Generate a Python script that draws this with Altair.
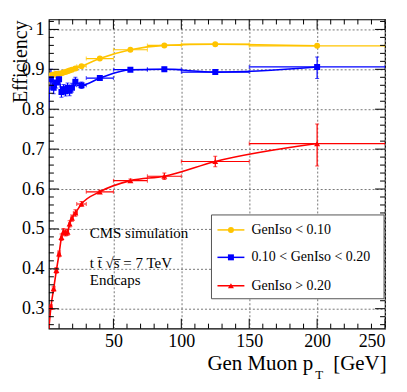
import altair as alt
import pandas as pd

# ---- data ----
pt = [2, 4, 6, 8, 10, 11.75, 13.25, 14.75, 16.25, 17.75, 19.5, 22, 26.5, 40, 62.5, 87.5, 125, 200]
pt_err = [1, 1, 1, 1, 1, 0.75, 0.75, 0.75, 0.75, 0.75, 1, 1.5, 3.5, 10, 12.5, 12.5, 25, 50]

eff_low = [0.845, 0.885, 0.887, 0.889, 0.889, 0.890, 0.892, 0.893, 0.895, 0.897, 0.899, 0.902, 0.908,
           0.927, 0.949, 0.960, 0.963, 0.959]
err_low_up = [0.01, 0.004, 0.004, 0.004, 0.004, 0.004, 0.003, 0.003, 0.003, 0.003, 0.003, 0.003, 0.003,
              0.002, 0.002, 0.002, 0.002, 0.003]
err_low_dn = err_low_up

eff_mid = [0.795, 0.875, 0.854, 0.867, 0.875, 0.843, 0.850, 0.845, 0.854, 0.846, 0.854, 0.869, 0.860,
           0.878, 0.899, 0.900, 0.893, 0.906]
err_mid_up = [0.02, 0.025, 0.015, 0.014, 0.013, 0.013, 0.012, 0.012, 0.012, 0.012, 0.011, 0.011, 0.008,
              0.005, 0.004, 0.005, 0.006, 0.025]
err_mid_dn = [0.02, 0.025, 0.015, 0.014, 0.013, 0.013, 0.012, 0.012, 0.012, 0.012, 0.011, 0.011, 0.008,
              0.005, 0.004, 0.005, 0.006, 0.029]

eff_high = [0.232, 0.304, 0.350, 0.396, 0.4375, 0.479, 0.493, 0.490, 0.492, 0.5125, 0.527, 0.540, 0.5625,
            0.593, 0.621, 0.632, 0.669, 0.714]
err_high_up = [0.01, 0.006, 0.006, 0.007, 0.007, 0.008, 0.008, 0.008, 0.008, 0.008, 0.008, 0.008, 0.006,
               0.004, 0.004, 0.008, 0.013, 0.049]
err_high_dn = [0.01, 0.006, 0.006, 0.007, 0.007, 0.008, 0.008, 0.008, 0.008, 0.008, 0.008, 0.008, 0.006,
               0.004, 0.004, 0.008, 0.013, 0.056]

series_names = ["GenIso < 0.10", "0.10 < GenIso < 0.20", "GenIso > 0.20"]
series_colors = ["#FFC400", "#0000FF", "#FF0000"]
series_shapes = ["circle", "square", "triangle-up"]

x_major = [50, 100, 150, 200, 250]
x_minor = [10, 20, 30, 40, 60, 70, 80, 90, 110, 120, 130, 140, 160, 170, 180, 190, 210, 220, 230, 240]
y_major = [0.3, 0.4, 0.5, 0.6, 0.7, 0.8, 0.9, 1.0]
y_minor = [0.26, 0.28, 0.32, 0.34, 0.36, 0.38, 0.42, 0.44, 0.46, 0.48, 0.52, 0.54, 0.56, 0.58,
           0.62, 0.64, 0.66, 0.68, 0.72, 0.74, 0.76, 0.78, 0.82, 0.84, 0.86, 0.88, 0.92, 0.94,
           0.96, 0.98, 1.02]

X_DOM = [2.5, 250]
Y_DOM = [0.25, 1.025]
W, H = 337, 310
FONT = "Liberation Serif"

rows = []
for name, eff, up, dn in [(series_names[0], eff_low, err_low_up, err_low_dn),
                          (series_names[1], eff_mid, err_mid_up, err_mid_dn),
                          (series_names[2], eff_high, err_high_up, err_high_dn)]:
    for x, ex, y, u, d in zip(pt, pt_err, eff, up, dn):
        rows.append(dict(series=name, pt=x, xlo=x - ex, xhi=x + ex, eff=y, ylo=y - d, yhi=y + u))
df = pd.DataFrame(rows)

xs = alt.Scale(domain=X_DOM, nice=False, zero=False)
ys = alt.Scale(domain=Y_DOM, nice=False, zero=False)
col = alt.Color("series:N", scale=alt.Scale(domain=series_names, range=series_colors), legend=None)
shp = alt.Shape("series:N", scale=alt.Scale(domain=series_names, range=series_shapes), legend=None)

X = alt.X("pt:Q", scale=xs,
          axis=alt.Axis(values=x_major, grid=True, ticks=False, domain=False, title=None,
                        labelFont=FONT, labelFontSize=18, labelColor="black", labelPadding=4,
                        gridColor="#777", gridDash=[2, 2], gridWidth=1))
Y = alt.Y("eff:Q", scale=ys,
          axis=alt.Axis(values=y_major, grid=True, ticks=False, domain=False, title=None,
                        labelFont=FONT, labelFontSize=18, labelColor="black", labelPadding=5,
                        labelExpr="datum.value == 1 ? '1' : format(datum.value, '.1f')",
                        gridColor="#777", gridDash=[2, 2], gridWidth=1))

base = alt.Chart(df)
shown = alt.Chart(df).transform_filter("datum.pt > 2.5")

lines = base.mark_line(interpolate="monotone", strokeWidth=1.6, clip=True).encode(
    x=X, y=Y, color=col, detail="series:N")
xerr = shown.mark_rule(strokeWidth=1.2, clip=True).encode(
    x=alt.X("xlo:Q", scale=xs), x2="xhi:Q", y=alt.Y("eff:Q", scale=ys), color=col)
yerr = shown.mark_rule(strokeWidth=1.2, clip=True).encode(
    x=alt.X("pt:Q", scale=xs), y=alt.Y("ylo:Q", scale=ys), y2="yhi:Q", color=col)
cap_xlo = shown.mark_tick(orient="vertical", size=4, thickness=1, clip=True).encode(
    x=alt.X("xlo:Q", scale=xs), y=alt.Y("eff:Q", scale=ys), color=col)
cap_xhi = shown.mark_tick(orient="vertical", size=4, thickness=1, clip=True).encode(
    x=alt.X("xhi:Q", scale=xs), y=alt.Y("eff:Q", scale=ys), color=col)
cap_ylo = shown.mark_tick(orient="horizontal", size=4, thickness=1, clip=True).encode(
    x=alt.X("pt:Q", scale=xs), y=alt.Y("ylo:Q", scale=ys), color=col)
cap_yhi = shown.mark_tick(orient="horizontal", size=4, thickness=1, clip=True).encode(
    x=alt.X("pt:Q", scale=xs), y=alt.Y("yhi:Q", scale=ys), color=col)
points = shown.mark_point(filled=True, opacity=1, size=36, clip=True).encode(
    x=alt.X("pt:Q", scale=xs), y=alt.Y("eff:Q", scale=ys), color=col, shape=shp)

# frame ticks (inward, on all four sides)
def xticks(vals, length):
    d = pd.DataFrame({"v": vals})
    b = alt.Chart(d).mark_rule(color="black", strokeWidth=1)
    return (b.encode(x=alt.X("v:Q", scale=xs), y=alt.value(H), y2=alt.value(H - length)) +
            b.encode(x=alt.X("v:Q", scale=xs), y=alt.value(0), y2=alt.value(length)))

def yticks(vals, length):
    d = pd.DataFrame({"v": vals})
    b = alt.Chart(d).mark_rule(color="black", strokeWidth=1)
    return (b.encode(y=alt.Y("v:Q", scale=ys), x=alt.value(0), x2=alt.value(length)) +
            b.encode(y=alt.Y("v:Q", scale=ys), x=alt.value(W), x2=alt.value(W - length)))

ticks = xticks(x_major, 10) + xticks(x_minor, 5) + yticks(y_major, 10) + yticks(y_minor, 5)

one = pd.DataFrame({"a": [0]})

# legend
leg_box = alt.Chart(one).mark_rect(fill="white", stroke="#555", strokeWidth=1).encode(
    x=alt.value(163), x2=alt.value(336), y=alt.value(196), y2=alt.value(280))
leg_layers = [leg_box]
leg_y = [211, 238.5, 267]
for name, c, s, yy in zip(series_names, series_colors, series_shapes, leg_y):
    ld = pd.DataFrame({"label": [name]})
    leg_layers.append(alt.Chart(ld).mark_rule(color=c, strokeWidth=1.5).encode(
        x=alt.value(169), x2=alt.value(196), y=alt.value(yy)))
    leg_layers.append(alt.Chart(ld).mark_point(filled=True, opacity=1, size=36, color=c, shape=s).encode(
        x=alt.value(182.5), y=alt.value(yy)))
    leg_layers.append(alt.Chart(ld).mark_text(font=FONT, fontSize=14, align="left", baseline="middle",
                                              color="black").encode(
        text="label:N", x=alt.value(203), y=alt.value(yy)))

def label(txt, x, y, size, align="left", baseline="middle", angle=0):
    d = pd.DataFrame({"t": [txt]})
    return alt.Chart(d).mark_text(font=FONT, fontSize=size, align=align, baseline=baseline,
                                  angle=angle, color="black").encode(
        text="t:N", x=alt.value(x), y=alt.value(y))

texts = [
    label("CMS simulation", 41, 214, 15),
    label("t t\u0304  \u221As\u0305 = 7 TeV", 41, 244, 15),
    label("Endcaps", 41, 261, 15),
    label("Efficiency", -28, 1, 20, align="right", angle=270),
    label("Gen Muon p", 265, 351, 21, align="right", baseline="alphabetic"),
    label("T", 267, 360, 13, baseline="alphabetic"),
    label("[GeV]", 285, 351, 21, baseline="alphabetic"),
]

chart = alt.layer(lines, xerr, yerr, cap_xlo, cap_xhi, cap_ylo, cap_yhi, points, ticks,
                  *leg_layers, *texts).properties(
    width=W, height=H,
    autosize=alt.AutoSizeParams(type="none"),
    padding={"left": 41, "top": 11, "right": 14, "bottom": 55},
    background="white",
).configure_view(stroke="black", strokeWidth=1.2).configure_axis(labelFont=FONT)

chart.save("out.html", embed_options={"renderer": "svg", "actions": False})
